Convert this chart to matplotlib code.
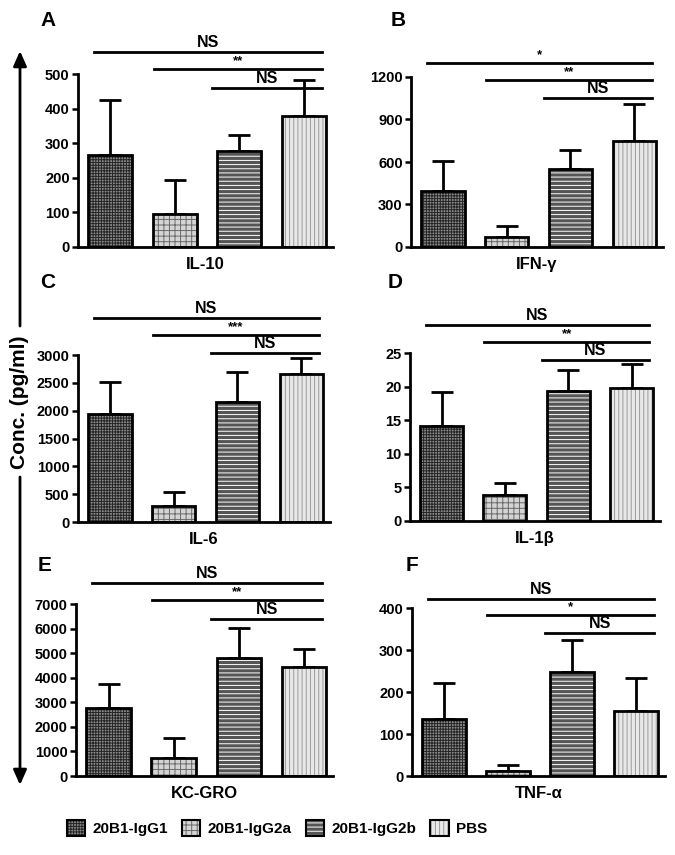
import matplotlib
matplotlib.use("Agg")
import matplotlib.pyplot as plt
from matplotlib.patches import Patch, FancyArrowPatch
from matplotlib.legend_handler import HandlerTuple
import numpy as np

plt.rcParams['font.family'] = ['Liberation Sans Narrow', 'Liberation Sans', 'DejaVu Sans']
plt.rcParams['font.weight'] = 'bold'
plt.rcParams['hatch.linewidth'] = 0.7

# groups and styles
groups = ['20B1-IgG1', '20B1-IgG2a', '20B1-IgG2b', 'PBS']
face = ['#8a8a8a', '#d4d4d4', '#555555', '#e8e8e8']
hatch = ['++++++', '+++', '----', '||||']
hcol = ['#252525', '#6a6a6a', 'white', '#9a9a9a']

# panel data (mean, sem)
cytokines = ['IL-10', 'IFN-γ', 'IL-6', 'IL-1β', 'KC-GRO', 'TNF-α']
letters = ['A', 'B', 'C', 'D', 'E', 'F']
il10_mean = [266, 95, 277, 379]
il10_sem = [159, 99, 47, 104]
ifng_mean = [395, 71, 551, 748]
ifng_sem = [212, 77, 134, 261]
il6_mean = [1940, 287, 2156, 2659]
il6_sem = [575, 252, 539, 287]
il1b_mean = [14.1, 3.9, 19.35, 19.8]
il1b_sem = [5.1, 1.75, 3.15, 3.6]
kc_mean = [2767, 733, 4802, 4436]
kc_sem = [977, 814, 1221, 733]
tnf_mean = [136, 12, 248, 155]
tnf_sem = [85, 14, 76, 78]
means = [il10_mean, ifng_mean, il6_mean, il1b_mean, kc_mean, tnf_mean]
sems = [il10_sem, ifng_sem, il6_sem, il1b_sem, kc_sem, tnf_sem]
ymax = [500, 1200, 3000, 25, 7000, 400]
ystep = [100, 300, 500, 5, 1000, 100]
# significance bars vs PBS: heights and labels (from IgG1 / IgG2a / IgG2b)
sig_y = [[563, 514, 459], [1299, 1179, 1052], [3665, 3359, 3036],
         [29.2, 26.6, 24.0], [7855, 7163, 6390], [421, 383, 340]]
sig_lab = [['NS', '**', 'NS'], ['*', '**', 'NS'], ['NS', '***', 'NS'],
           ['NS', '**', 'NS'], ['NS', '**', 'NS'], ['NS', '*', 'NS']]

# axes boxes in pixels: left, right, top, baseline
boxes = [(78, 333, 74, 247), (411, 663, 77, 247), (78, 330, 355, 522),
         (410, 660, 353, 521), (76, 333, 604, 776), (412, 665, 608, 776)]
letter_pos = [(48, 20), (398, 20), (48, 283), (395, 283), (45, 565), (412, 565)]

W, H = 675, 855
fig = plt.figure(figsize=(6.75, 8.55), dpi=100)
x = np.arange(4)
bw = 0.68
starts = [-0.25, -0.33, -0.42]

for i in range(6):
    l, r, t, b = boxes[i]
    ax = fig.add_axes([l / W, (H - b) / H, (r - l) / W, (b - t) / H])
    for j in range(4):
        ax.bar(x[j], means[i][j], bw, color=face[j], hatch=hatch[j],
               edgecolor=hcol[j], linewidth=0, zorder=2)
        ax.bar(x[j], means[i][j], bw, fill=False, edgecolor='black',
               linewidth=2, zorder=3)
    ax.errorbar(x, means[i], yerr=[np.zeros(4), sems[i]], fmt='none',
                ecolor='black', elinewidth=2, capsize=8, capthick=2, zorder=1)
    ax.set_xlim(-0.5, 3.45)
    ax.set_ylim(0, ymax[i])
    ax.set_yticks(np.arange(0, ymax[i] + ystep[i] * 0.01, ystep[i]))
    ax.set_xticks([])
    ax.tick_params(axis='y', width=1.8, length=4, labelsize=10.5, pad=2)
    for lab in ax.get_yticklabels():
        lab.set_fontweight('bold')
    for s in ['top', 'right']:
        ax.spines[s].set_visible(False)
    for s in ['left', 'bottom']:
        ax.spines[s].set_linewidth(2)
    ax.set_xlabel(cytokines[i], fontsize=12, fontweight='bold', labelpad=7)
    for k in range(3):
        x0 = x[k] + starts[k]
        x1 = x[3] + 0.28
        ax.plot([x0, x1], [sig_y[i][k]] * 2, color='black', lw=2, clip_on=False)
        ax.text((x0 + x1) / 2, sig_y[i][k] + ymax[i] * 0.012, sig_lab[i][k],
                ha='center', va='bottom',
                fontsize=11.5 if sig_lab[i][k] == 'NS' else 9.5,
                fontweight='bold', clip_on=False)
    lx, ly = letter_pos[i]
    fig.text(lx / W, 1 - ly / H, letters[i], fontsize=15, fontweight='bold',
             ha='center', va='center')

# vertical double arrow with label
ax_x = 20 / W
for y0, y1 in [(326, 51), (477, 785)]:
    fig.add_artist(FancyArrowPatch(
        (ax_x, 1 - y0 / H), (ax_x, 1 - y1 / H), transform=fig.transFigure,
        arrowstyle='-|>,head_length=9,head_width=4', lw=2, color='black',
        shrinkA=0, shrinkB=0, mutation_scale=1))
fig.text(ax_x, 1 - 402 / H, 'Conc. (pg/ml)', rotation=90, ha='center',
         va='center', fontsize=15, fontweight='bold')

# legend
handles = []
for j in range(4):
    handles.append((Patch(facecolor=face[j], hatch=hatch[j], edgecolor=hcol[j], linewidth=0),
                    Patch(fill=False, edgecolor='black', linewidth=1.5)))
fig.legend(handles, groups, handler_map={tuple: HandlerTuple(ndivide=1)},
           loc='center left', bbox_to_anchor=(56 / W, 1 - 828 / H), ncol=4, frameon=False,
           prop={'size': 11, 'weight': 'bold'}, handlelength=1.2, handleheight=1.2,
           columnspacing=0.9, handletextpad=0.5, borderpad=0.2)

fig.savefig('out.png', dpi=100)
